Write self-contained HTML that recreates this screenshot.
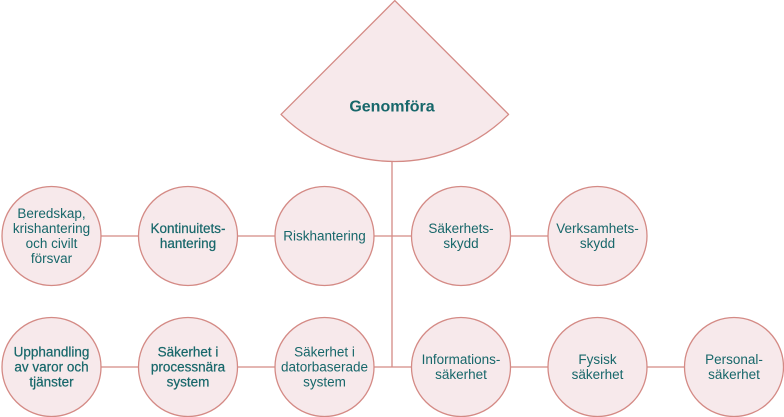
<!DOCTYPE html>
<html>
<head>
<meta charset="utf-8">
<style>
  html,body{margin:0;padding:0;background:#ffffff;}
  svg{display:block;}
  text{font-family:"Liberation Sans",sans-serif;fill:#17676a;}
</style>
</head>
<body>
<svg width="784" height="417" viewBox="0 0 784 417" xmlns="http://www.w3.org/2000/svg">
  <g stroke="#d48a85" stroke-width="1.3" fill="none">
    <line x1="51.5" y1="236" x2="597.5" y2="236"/>
    <line x1="51.5" y1="367" x2="734" y2="367"/>
    <line x1="392" y1="160" x2="392" y2="367"/>
  </g>
  <!-- sector -->
  <path d="M394.8 0.6 L281 114.4 A161 161 0 0 0 508.6 114.4 Z" fill="#f7e9eb" stroke="#d48a85" stroke-width="1.3" stroke-linejoin="round"/>
  <text x="392" y="111.5" text-anchor="middle" font-size="16" font-weight="bold">Genomföra</text>

  <g fill="#f7e9eb" stroke="#d48a85" stroke-width="1.3">
    <circle cx="51.5" cy="236" r="49.5"/>
    <circle cx="188" cy="236" r="49.5"/>
    <circle cx="324.5" cy="236" r="49.5"/>
    <circle cx="461" cy="236" r="49.5"/>
    <circle cx="597.5" cy="236" r="49.5"/>
    <circle cx="51.5" cy="367" r="49.5"/>
    <circle cx="188" cy="367" r="49.5"/>
    <circle cx="324.5" cy="367" r="49.5"/>
    <circle cx="461" cy="367" r="49.5"/>
    <circle cx="597.5" cy="367" r="49.5"/>
    <circle cx="734" cy="367" r="49.5"/>
  </g>

  <g font-size="13.5" text-anchor="middle">
    <!-- row 1 -->
    <text x="51.5" y="218">Beredskap,</text>
    <text x="51.5" y="233">krishantering</text>
    <text x="51.5" y="248">och civilt</text>
    <text x="51.5" y="263">försvar</text>

    <g stroke="#17676a" stroke-width="0.22">
      <text x="188" y="233">Kontinuitets-</text>
      <text x="188" y="248">hantering</text>
    </g>

    <text x="324.5" y="240.5">Riskhantering</text>

    <text x="461" y="233">Säkerhets-</text>
    <text x="461" y="248">skydd</text>

    <text x="597.5" y="233">Verksamhets-</text>
    <text x="597.5" y="248">skydd</text>

    <!-- row 2 -->
    <g stroke="#17676a" stroke-width="0.22">
      <text x="51.5" y="356.5">Upphandling</text>
      <text x="51.5" y="371.5">av varor och</text>
      <text x="51.5" y="386.5">tjänster</text>

      <text x="188" y="356.5">Säkerhet i</text>
      <text x="188" y="371.5">processnära</text>
      <text x="188" y="386.5">system</text>
    </g>

    <text x="324.5" y="356.5">Säkerhet i</text>
    <text x="324.5" y="371.5">datorbaserade</text>
    <text x="324.5" y="386.5">system</text>

    <text x="461" y="364">Informations-</text>
    <text x="461" y="379">säkerhet</text>

    <text x="597.5" y="364">Fysisk</text>
    <text x="597.5" y="379">säkerhet</text>

    <text x="734" y="364">Personal-</text>
    <text x="734" y="379">säkerhet</text>
  </g>
</svg>
</body>
</html>
